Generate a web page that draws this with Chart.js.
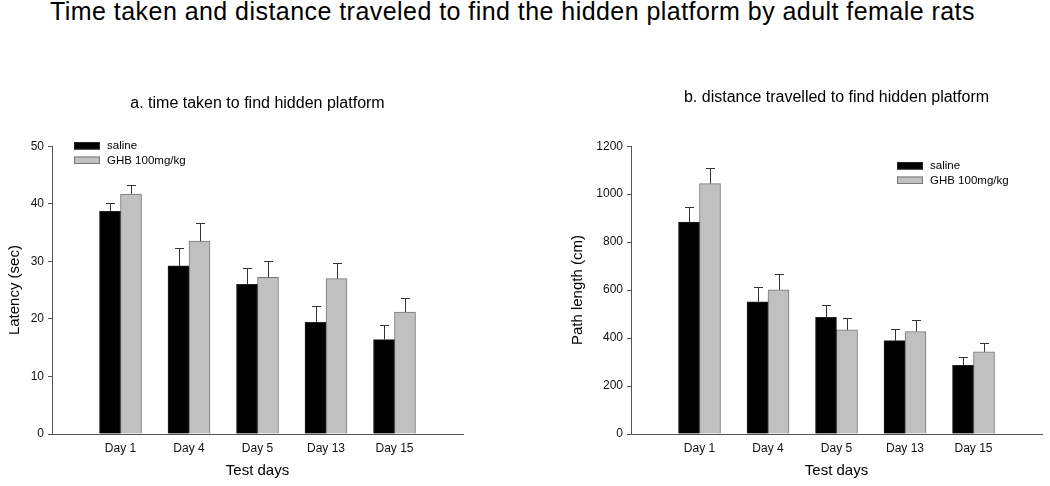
<!DOCTYPE html>
<html>
<head>
<meta charset="utf-8">
<script src="https://cdn.jsdelivr.net/npm/chart.js@4.4.1/dist/chart.umd.min.js"></script>
<style>
  body { margin: 0; background: #fff; width: 1050px; height: 486px; position: relative; overflow: hidden; }
  #mainTitle { position: absolute; left: 0; top: -1px; width: 1025px; text-align: center;
    font: 25px Arial, "Liberation Sans", sans-serif; line-height: 25px; letter-spacing: 0.45px; color: #000; }
  canvas { position: absolute; top: 0; }
  #chartA { left: 0; }
  #chartB { left: 560px; }
</style>
</head>
<body>
<div id="mainTitle">Time taken and distance traveled to find the hidden platform by adult female rats</div>
<canvas id="chartA" width="525" height="486"></canvas>
<canvas id="chartB" width="490" height="486"></canvas>
<script>
// data
var days = ['Day 1', 'Day 4', 'Day 5', 'Day 13', 'Day 15'];
var seriesNames = ['saline', 'GHB 100mg/kg'];

var latencySaline = [38.7, 29.2, 26.0, 19.4, 16.4];
var latencySalineErr = [1.4, 3.1, 2.8, 2.8, 2.5];
var latencyGHB = [41.7, 33.5, 27.2, 27.0, 21.2];
var latencyGHBErr = [1.5, 3.1, 2.8, 2.7, 2.5];

var pathSaline = [884, 551, 486, 389, 286];
var pathSalineErr = [63, 62, 50, 49, 34];
var pathGHB = [1044, 601, 434, 427, 343];
var pathGHBErr = [64, 65, 48, 50, 37];

var FONT = 'Arial, "Liberation Sans", sans-serif';

// empty slot on each side so days sit at 1..5 of a 0..6 axis
function pad(arr, fill) {
    return [fill].concat(arr, [fill]);
}

// draws the upper error bars on top of each bar
var errorBars = {
    id: 'errorBars',
    afterDatasetsDraw: function (chart) {
        var ctx = chart.ctx;
        var y = chart.scales.y;
        chart.data.datasets.forEach(function (ds, di) {
            var meta = chart.getDatasetMeta(di);
            meta.data.forEach(function (bar, i) {
                var v = ds.data[i];
                if (v == null) return;
                var top = Math.round(y.getPixelForValue(v + ds.errors[i])) + 0.5;
                var x = Math.round(bar.x) + 0.5;
                ctx.save();
                ctx.strokeStyle = '#333';
                ctx.lineWidth = 1;
                ctx.beginPath();
                ctx.moveTo(x, bar.y);
                ctx.lineTo(x, top);
                ctx.moveTo(x - 4.5, top);
                ctx.lineTo(x + 4.5, top);
                ctx.stroke();
                ctx.restore();
            });
        });
    }
};

// small legend inside the plot, like the original figure
var boxLegend = {
    id: 'boxLegend',
    afterDraw: function (chart, args, opts) {
        var ctx = chart.ctx;
        var left = chart.chartArea.left + opts.left;
        var top = opts.top;
        ctx.save();
        ctx.font = '11.5px ' + FONT;
        ctx.textBaseline = 'middle';
        chart.data.datasets.forEach(function (ds, i) {
            var yy = top + i * 14.5;
            ctx.fillStyle = ds.backgroundColor;
            ctx.fillRect(left, yy, 26, 7.5);
            ctx.strokeStyle = ds.borderColor;
            ctx.lineWidth = 1;
            ctx.strokeRect(left + 0.5, yy + 0.5, 25, 6.5);
            ctx.fillStyle = '#000';
            ctx.fillText(ds.label, left + 33, yy + 4);
        });
        ctx.restore();
    }
};

function makeChart(id, cfg) {
    return new Chart(document.getElementById(id), {
        type: 'bar',
        data: {
            labels: pad(days, ''),
            datasets: [
                {
                    label: seriesNames[0],
                    data: pad(cfg.saline, null),
                    errors: pad(cfg.salineErr, 0),
                    backgroundColor: '#000000',
                    borderColor: '#222222',
                    borderWidth: 1,
                    barThickness: 21
                },
                {
                    label: seriesNames[1],
                    data: pad(cfg.ghb, null),
                    errors: pad(cfg.ghbErr, 0),
                    backgroundColor: '#c0c0c0',
                    borderColor: '#777777',
                    borderWidth: 1,
                    barThickness: 21
                }
            ]
        },
        options: {
            responsive: false,
            animation: false,
            layout: { padding: { left: 0, right: cfg.padRight, top: 0, bottom: 0 } },
            plugins: {
                legend: { display: false },
                tooltip: { enabled: false },
                title: {
                    display: true,
                    fullSize: false,
                    text: cfg.title,
                    color: '#000',
                    font: { family: FONT, size: 16, weight: 'normal' },
                    padding: { top: cfg.titleTop, bottom: 127 - cfg.titleTop }
                },
                boxLegend: cfg.legend
            },
            scales: {
                x: {
                    offset: false,
                    grid: { display: false, drawTicks: false },
                    border: { display: true, color: '#555', width: 1 },
                    ticks: { color: '#111', font: { family: FONT, size: 12 }, padding: 7, maxRotation: 0, autoSkip: false },
                    title: { display: true, text: 'Test days', color: '#000', font: { family: FONT, size: 15 }, padding: { top: 4, bottom: 6 } },
                    afterFit: function (s) { s.height = 52; }
                },
                y: {
                    min: 0,
                    max: cfg.max,
                    ticks: {
                        stepSize: cfg.step, color: '#111', font: { family: FONT, size: 12 }, padding: 4,
                        callback: function (v) { return String(v); }
                    },
                    grid: { drawOnChartArea: false, drawTicks: true, tickLength: 4, color: '#555' },
                    border: { display: true, color: '#555', width: 1 },
                    title: { display: true, text: cfg.yTitle, color: '#000', font: { family: FONT, size: 15 }, padding: { top: cfg.yTitlePad, bottom: 0 } },
                    afterFit: function (s) { s.width = cfg.axisWidth; }
                }
            }
        },
        plugins: [errorBars, boxLegend]
    });
}

makeChart('chartA', {
    title: 'a. time taken to find hidden platform',
    titleTop: 94,
    yTitle: 'Latency (sec)',
    yTitlePad: 6,
    axisWidth: 52,
    padRight: 62,
    max: 50,
    step: 10,
    saline: latencySaline, salineErr: latencySalineErr,
    ghb: latencyGHB, ghbErr: latencyGHBErr,
    legend: { left: 22, top: 142 }
});

makeChart('chartB', {
    title: 'b. distance travelled to find hidden platform',
    titleTop: 88,
    yTitle: 'Path length (cm)',
    yTitlePad: 9,
    axisWidth: 71,
    padRight: 8,
    max: 1200,
    step: 200,
    saline: pathSaline, salineErr: pathSalineErr,
    ghb: pathGHB, ghbErr: pathGHBErr,
    legend: { left: 266, top: 162 }
});
</script>
</body>
</html>
